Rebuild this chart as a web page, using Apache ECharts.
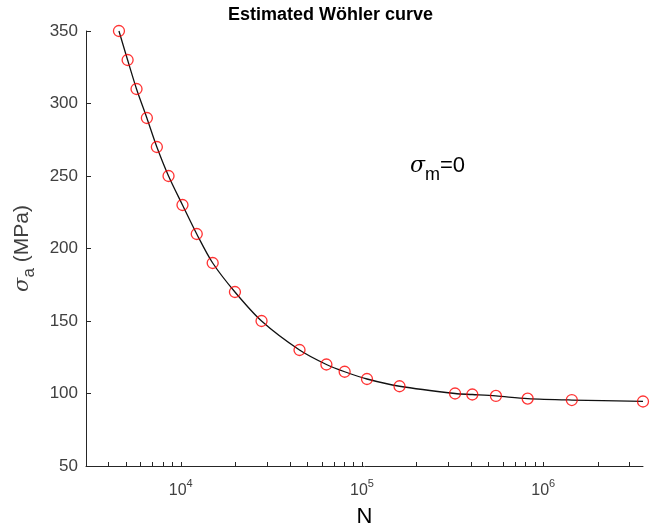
<!DOCTYPE html>
<html>
<head>
<meta charset="utf-8">
<script src="https://cdn.jsdelivr.net/npm/echarts@6/dist/echarts.min.js"></script>
<style>
html,body{margin:0;padding:0;background:#fff;}
#chart{width:661px;height:530px;}
</style>
</head>
<body>
<div id="chart"></div>
<script>
// Data
var cycles = [4560, 5090, 5700, 6500, 7380, 8560, 10220, 12250, 15000, 19900, 27900, 45200, 63600, 80200, 106500, 161000, 326000, 406000, 548000, 820000, 1437000, 3550000];
var stress = [350, 330, 310, 290, 270, 250, 230, 210, 190, 170, 150, 130, 120, 115, 110, 105, 100, 99.3, 98.3, 96.5, 95.5, 94.5];
var xLabelValues = [10000, 100000, 1000000];
var xTickValues = [4000, 5000, 6000, 7000, 8000, 9000, 10000, 20000, 30000, 40000, 50000, 60000, 70000, 80000, 90000, 100000, 200000, 300000, 400000, 500000, 600000, 700000, 800000, 900000, 1000000, 2000000, 3000000];
var yTicks = [50, 100, 150, 200, 250, 300, 350];

var pts = cycles.map(function (n, i) { return [n, stress[i]]; });
var axisColor = '#262626';
var labelColor = '#404040';

var chart = echarts.init(document.getElementById('chart'), null, {renderer: 'canvas'});
chart.setOption({
  backgroundColor: '#fff',
  animation: false,
  title: {
    text: 'Estimated Wöhler curve',
    left: 'center',
    top: 1,
    textStyle: {fontFamily: 'Liberation Sans', fontSize: 18, fontWeight: 'bold', color: '#000'}
  },
  grid: {left: 86, right: 18, top: 31, bottom: 64, containLabel: false, outerBoundsMode: 'none'},
  xAxis: {
    type: 'log',
    logBase: 10,
    min: 3000,
    max: 3550000,
    name: 'N',
    nameLocation: 'middle',
    nameGap: 40,
    nameTextStyle: {fontFamily: 'Liberation Sans', fontSize: 22, color: '#000'},
    axisLine: {show: true, lineStyle: {color: axisColor, width: 1}},
    axisTick: {show: true, inside: true, length: 4, customValues: xTickValues, lineStyle: {color: axisColor}},
    axisLabel: {
      customValues: xLabelValues,
      margin: 12,
      color: labelColor,
      fontFamily: 'Liberation Sans',
      formatter: function (v) {
        var e = Math.round(Math.log10(v));
        return '{b|10}{s|' + e + '}';
      },
      rich: {
        b: {fontSize: 16, color: labelColor, fontFamily: 'Liberation Sans', padding: [5, 0, 0, 0]},
        s: {fontSize: 11, color: labelColor, fontFamily: 'Liberation Sans', verticalAlign: 'top'}
      }
    },
    splitLine: {show: false}
  },
  yAxis: {
    type: 'value',
    min: yTicks[0],
    max: yTicks[yTicks.length - 1],
    interval: 50,
    name: '{g|σ}{s|a}{n| (MPa)}',
    nameLocation: 'middle',
    nameRotate: 90,
    nameGap: 48,
    nameTextStyle: {
      color: labelColor,
      rich: {
        g: {fontSize: 21, fontFamily: 'DejaVu Serif', fontStyle: 'italic', color: labelColor, padding: [0, 0, 5, 0]},
        s: {fontSize: 17, fontFamily: 'Liberation Sans', color: labelColor, verticalAlign: 'bottom'},
        n: {fontSize: 21, fontFamily: 'Liberation Sans', color: labelColor, padding: [0, 0, 5, 0]}
      }
    },
    axisLine: {show: true, lineStyle: {color: axisColor, width: 1}},
    axisTick: {show: true, inside: true, length: 5, lineStyle: {color: axisColor}},
    axisLabel: {margin: 8, fontSize: 17, fontFamily: 'Liberation Sans', color: labelColor},
    splitLine: {show: false}
  },
  graphic: [{
    type: 'text',
    left: 410,
    top: 155,
    style: {
      text: '{g|σ}{s|m}{n|=0}',
      rich: {
        g: {fontSize: 22, fontFamily: 'DejaVu Serif', fontStyle: 'italic', fill: '#000', padding: [0, 0, 7, 0]},
        s: {fontSize: 18, fontFamily: 'Liberation Sans', fill: '#000', verticalAlign: 'bottom'},
        n: {fontSize: 22, fontFamily: 'Liberation Sans', fill: '#000', padding: [0, 0, 7, 0]}
      }
    }
  }],
  series: [
    {
      type: 'line',
      data: pts,
      smooth: 0.3,
      showSymbol: false,
      symbol: 'none',
      lineStyle: {color: '#111', width: 1.3},
      z: 2
    },
    {
      type: 'scatter',
      data: pts,
      symbol: 'circle',
      symbolSize: 11,
      itemStyle: {color: 'rgba(255,255,255,0)', borderColor: '#ff0000', borderWidth: 1.3},
      z: 3
    }
  ]
});
</script>
</body>
</html>
